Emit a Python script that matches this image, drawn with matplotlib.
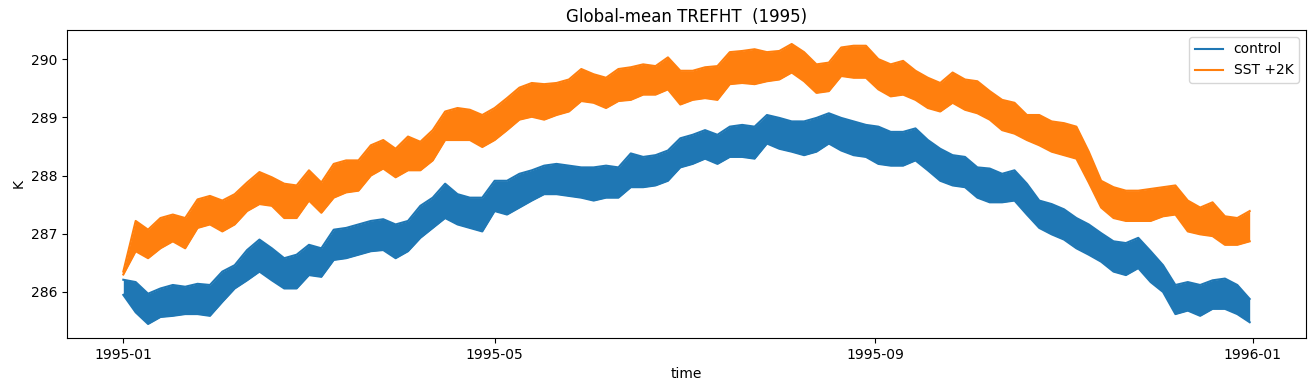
import numpy as np
import matplotlib
matplotlib.use('Agg')
import matplotlib.pyplot as plt
import matplotlib.dates as mdates

# day of year (from 1995-01-01) where the envelope was read
days = [0, 4, 8, 12, 16, 20, 24, 28, 32, 36, 40, 44, 48, 52, 56, 60, 64, 68, 72, 76,
        80, 84, 88, 92, 96, 100, 104, 108, 112, 116, 120, 124, 128, 132, 136, 140,
        144, 148, 152, 156, 160, 164, 168, 172, 176, 180, 184, 188, 192, 196, 200,
        204, 208, 212, 216, 220, 224, 228, 232, 236, 240, 244, 248, 252, 256, 260,
        264, 268, 272, 276, 280, 284, 288, 292, 296, 300, 304, 308, 312, 316, 320,
        324, 328, 332, 336, 340, 344, 348, 352, 356, 360, 364]

# control: upper / lower edge of the diurnal band (K)
ctrl_hi = [286.21, 286.17, 285.97, 286.06, 286.12, 286.09, 286.14, 286.12, 286.35, 286.46,
           286.72, 286.90, 286.75, 286.58, 286.64, 286.81, 286.75, 287.07, 287.10, 287.16,
           287.22, 287.25, 287.16, 287.22, 287.48, 287.62, 287.86, 287.68, 287.62, 287.62,
           287.91, 287.91, 288.03, 288.09, 288.17, 288.20, 288.17, 288.14, 288.14, 288.17,
           288.14, 288.38, 288.32, 288.35, 288.43, 288.64, 288.70, 288.78, 288.70, 288.84,
           288.87, 288.84, 289.04, 288.99, 288.93, 288.93, 288.99, 289.07, 288.99, 288.93,
           288.87, 288.84, 288.75, 288.75, 288.81, 288.61, 288.46, 288.35, 288.32, 288.14,
           288.12, 288.03, 288.09, 287.86, 287.57, 287.51, 287.42, 287.27, 287.16, 287.01,
           286.87, 286.84, 286.93, 286.70, 286.46, 286.12, 286.17, 286.12, 286.20, 286.23,
           286.12, 285.88]
ctrl_lo = [285.95, 285.65, 285.45, 285.57, 285.59, 285.62, 285.62, 285.59, 285.83, 286.06,
           286.20, 286.35, 286.20, 286.06, 286.06, 286.29, 286.26, 286.55, 286.58, 286.64,
           286.70, 286.72, 286.58, 286.70, 286.93, 287.10, 287.27, 287.16, 287.10, 287.04,
           287.39, 287.33, 287.45, 287.57, 287.68, 287.68, 287.65, 287.62, 287.57, 287.62,
           287.62, 287.80, 287.80, 287.83, 287.91, 288.14, 288.20, 288.29, 288.20, 288.32,
           288.32, 288.29, 288.55, 288.46, 288.41, 288.35, 288.41, 288.55, 288.43, 288.35,
           288.32, 288.20, 288.17, 288.17, 288.26, 288.09, 287.91, 287.83, 287.80, 287.62,
           287.54, 287.54, 287.57, 287.33, 287.10, 286.99, 286.90, 286.75, 286.64, 286.52,
           286.35, 286.29, 286.41, 286.17, 286.00, 285.62, 285.68, 285.59, 285.71, 285.71,
           285.62, 285.48]

# SST +2K: upper / lower edge of the diurnal band (K)
sst_hi = [286.35, 287.22, 287.07, 287.27, 287.33, 287.27, 287.59, 287.65, 287.57, 287.68,
          287.88, 288.06, 287.97, 287.86, 287.83, 288.09, 287.88, 288.20, 288.26, 288.26,
          288.52, 288.61, 288.46, 288.67, 288.58, 288.78, 289.10, 289.16, 289.13, 289.04,
          289.16, 289.33, 289.51, 289.59, 289.57, 289.59, 289.65, 289.83, 289.74, 289.68,
          289.83, 289.86, 289.91, 289.88, 290.03, 289.80, 289.80, 289.86, 289.88, 290.12,
          290.14, 290.17, 290.12, 290.14, 290.26, 290.12, 289.91, 289.94, 290.20, 290.23,
          290.23, 290.00, 289.91, 289.97, 289.80, 289.68, 289.59, 289.77, 289.65, 289.62,
          289.45, 289.30, 289.25, 289.04, 289.04, 288.93, 288.90, 288.84, 288.41, 287.91,
          287.80, 287.74, 287.74, 287.77, 287.80, 287.83, 287.57, 287.45, 287.54, 287.30,
          287.27, 287.39]
sst_lo = [286.30, 286.70, 286.58, 286.75, 286.87, 286.75, 287.10, 287.16, 287.04, 287.16,
          287.39, 287.51, 287.48, 287.27, 287.27, 287.57, 287.36, 287.62, 287.71, 287.74,
          288.00, 288.12, 287.97, 288.09, 288.09, 288.26, 288.61, 288.61, 288.61, 288.49,
          288.61, 288.78, 288.96, 289.01, 288.96, 289.04, 289.10, 289.28, 289.25, 289.16,
          289.28, 289.30, 289.39, 289.39, 289.48, 289.22, 289.30, 289.33, 289.30, 289.57,
          289.59, 289.57, 289.62, 289.65, 289.77, 289.62, 289.42, 289.45, 289.71, 289.68,
          289.68, 289.48, 289.36, 289.39, 289.30, 289.16, 289.10, 289.25, 289.13, 289.07,
          288.96, 288.78, 288.72, 288.61, 288.52, 288.41, 288.35, 288.29, 287.88, 287.45,
          287.27, 287.22, 287.22, 287.22, 287.30, 287.33, 287.04, 286.99, 286.96, 286.81,
          286.81, 286.87]

time = np.datetime64('1995-01-01') + np.array(days).astype('timedelta64[D]')

fig = plt.figure(figsize=(13.16, 3.92), dpi=100)
ax = fig.add_axes([0.0509, 0.1378, 0.9415, 0.7857])

ax.fill_between(time, ctrl_lo, ctrl_hi, color='tab:blue', lw=0)
ax.plot(time, ctrl_hi, color='tab:blue', lw=1.5, label='control')
ax.plot(time, ctrl_lo, color='tab:blue', lw=1.5)
ax.fill_between(time, sst_lo, sst_hi, color='tab:orange', lw=0)
ax.plot(time, sst_hi, color='tab:orange', lw=1.5, label='SST +2K')
ax.plot(time, sst_lo, color='tab:orange', lw=1.5)

ax.xaxis.set_major_locator(mdates.MonthLocator(bymonth=[1, 5, 9]))
ax.xaxis.set_major_formatter(mdates.DateFormatter('%Y-%m'))
ax.set_yticks([286, 287, 288, 289, 290])
ax.set_title('Global-mean TREFHT  (1995)')
ax.set_xlabel('time')
ax.set_ylabel('K')
ax.legend(loc='upper right')

fig.savefig('out.png', dpi=100)
